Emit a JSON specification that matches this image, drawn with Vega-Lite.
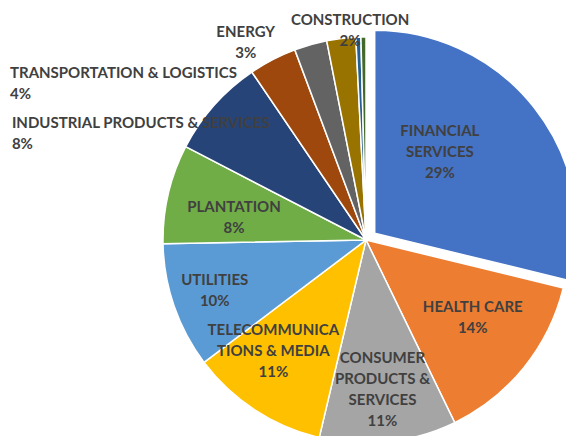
{
  "$schema": "https://vega.github.io/schema/vega-lite/v6.json",
  "autosize": "none",
  "width": 400,
  "height": 392,
  "padding": {"left": 166, "top": 44, "right": 0, "bottom": 0},
  "background": "white",
  "view": {"stroke": null},
  "config": {"text": {"font": "Lato", "fontSize": 15, "fontWeight": "bold", "color": "#404040", "lineHeight": 21, "lineBreak": "|", "baseline": "middle"}},
  "data": {
    "values": [
      {"sector": "FINANCIAL SERVICES", "label": "FINANCIAL|SERVICES", "share": 28.8},
      {"sector": "HEALTH CARE", "label": "HEALTH CARE", "share": 14.0},
      {"sector": "CONSUMER PRODUCTS & SERVICES", "label": "CONSUMER|PRODUCTS &|SERVICES", "share": 10.9},
      {"sector": "TELECOMMUNICATIONS & MEDIA", "label": "TELECOMMUNICA|TIONS & MEDIA", "share": 11.0},
      {"sector": "UTILITIES", "label": "UTILITIES", "share": 10.0},
      {"sector": "PLANTATION", "label": "PLANTATION", "share": 7.9},
      {"sector": "INDUSTRIAL PRODUCTS & SERVICES", "label": "INDUSTRIAL PRODUCTS & SERVICES", "share": 7.9},
      {"sector": "TRANSPORTATION & LOGISTICS", "label": "TRANSPORTATION & LOGISTICS", "share": 3.8},
      {"sector": "ENERGY", "label": "ENERGY", "share": 2.6},
      {"sector": "CONSTRUCTION", "label": "CONSTRUCTION", "share": 2.3},
      {"sector": "OTHER A", "label": "", "share": 0.4},
      {"sector": "OTHER B", "label": "", "share": 0.4}
    ]
  },
  "transform": [
    {"stack": "share", "groupby": [], "as": ["s0", "s1"]},
    {"calculate": "(datum.s0 + datum.s1) / 2", "as": "mid"},
    {"calculate": "datum.label + '|' + format(datum.share, '.0f') + '%'", "as": "txt"}
  ],
  "layer": [
    {
      "transform": [{"filter": "datum.sector != 'FINANCIAL SERVICES'"}],
      "mark": {"type": "arc", "radius": 203, "stroke": "white", "strokeWidth": 1.5},
      "encoding": {
        "theta": {"field": "s0", "type": "quantitative", "scale": {"domain": [0, 100]}},
        "theta2": {"field": "s1"},
        "color": {
          "field": "sector", "type": "nominal", "legend": null,
          "scale": {
            "domain": ["FINANCIAL SERVICES", "HEALTH CARE", "CONSUMER PRODUCTS & SERVICES", "TELECOMMUNICATIONS & MEDIA", "UTILITIES", "PLANTATION", "INDUSTRIAL PRODUCTS & SERVICES", "TRANSPORTATION & LOGISTICS", "ENERGY", "CONSTRUCTION", "OTHER A", "OTHER B"],
            "range": ["#4472C4", "#ED7D31", "#A5A5A5", "#FFC000", "#5B9BD5", "#70AD47", "#264478", "#9E480E", "#636363", "#997300", "#255E91", "#43682B"]
          }
        }
      }
    },
    {
      "transform": [{"filter": "datum.sector == 'FINANCIAL SERVICES'"}],
      "mark": {"type": "arc", "radius": 203, "stroke": "white", "strokeWidth": 1.5, "xOffset": 8.7, "yOffset": -6.8},
      "encoding": {
        "theta": {"field": "s0", "type": "quantitative", "scale": {"domain": [0, 100]}},
        "theta2": {"field": "s1"},
        "color": {"field": "sector", "type": "nominal", "legend": null}
      }
    },
    {
      "transform": [{"filter": "datum.sector == 'FINANCIAL SERVICES'"}],
      "mark": {"type": "text", "align": "center", "dx": -15, "dy": -39},
      "encoding": {"theta": {"field": "mid", "type": "quantitative", "stack": null, "scale": {"domain": [0, 100]}}, "radius": {"value": 113}, "text": {"field": "txt"}}
    },
    {
      "transform": [{"filter": "datum.sector == 'HEALTH CARE'"}],
      "mark": {"type": "text", "align": "center", "dx": 4, "dy": -15.5},
      "encoding": {"theta": {"field": "mid", "type": "quantitative", "stack": null, "scale": {"domain": [0, 100]}}, "radius": {"value": 132}, "text": {"field": "txt"}}
    },
    {
      "transform": [{"filter": "datum.sector == 'CONSUMER PRODUCTS & SERVICES'"}],
      "mark": {"type": "text", "align": "center", "dx": 0, "dy": -31.5},
      "encoding": {"theta": {"field": "mid", "type": "quantitative", "stack": null, "scale": {"domain": [0, 100]}}, "radius": {"value": 150}, "text": {"field": "txt"}}
    },
    {
      "transform": [{"filter": "datum.sector == 'TELECOMMUNICATIONS & MEDIA'"}],
      "mark": {"type": "text", "align": "center", "dx": -14, "dy": -31},
      "encoding": {"theta": {"field": "mid", "type": "quantitative", "stack": null, "scale": {"domain": [0, 100]}}, "radius": {"value": 144}, "text": {"field": "txt"}}
    },
    {
      "transform": [{"filter": "datum.sector == 'UTILITIES'"}],
      "mark": {"type": "text", "align": "center", "dx": -1, "dy": -12},
      "encoding": {"theta": {"field": "mid", "type": "quantitative", "stack": null, "scale": {"domain": [0, 100]}}, "radius": {"value": 159}, "text": {"field": "txt"}}
    },
    {
      "transform": [{"filter": "datum.sector == 'PLANTATION'"}],
      "mark": {"type": "text", "align": "center", "dx": -1.5, "dy": -2.5},
      "encoding": {"theta": {"field": "mid", "type": "quantitative", "stack": null, "scale": {"domain": [0, 100]}}, "radius": {"value": 134}, "text": {"field": "txt"}}
    },
    {
      "transform": [{"filter": "datum.sector == 'INDUSTRIAL PRODUCTS & SERVICES'"}],
      "mark": {"type": "text", "align": "left", "dx": -197, "dy": 22.5},
      "encoding": {"theta": {"field": "mid", "type": "quantitative", "stack": null, "scale": {"domain": [0, 100]}}, "radius": {"value": 210}, "text": {"field": "txt"}}
    },
    {
      "transform": [{"filter": "datum.sector == 'TRANSPORTATION & LOGISTICS'"}],
      "mark": {"type": "text", "align": "left", "dx": -259.5, "dy": 19.5},
      "encoding": {"theta": {"field": "mid", "type": "quantitative", "stack": null, "scale": {"domain": [0, 100]}}, "radius": {"value": 210}, "text": {"field": "txt"}}
    },
    {
      "transform": [{"filter": "datum.sector == 'ENERGY'"}],
      "mark": {"type": "text", "align": "center", "dx": -63, "dy": -6},
      "encoding": {"theta": {"field": "mid", "type": "quantitative", "stack": null, "scale": {"domain": [0, 100]}}, "radius": {"value": 210}, "text": {"field": "txt"}}
    },
    {
      "transform": [{"filter": "datum.sector == 'CONSTRUCTION'"}],
      "mark": {"type": "text", "align": "center", "dx": 11, "dy": -1.6},
      "encoding": {"theta": {"field": "mid", "type": "quantitative", "stack": null, "scale": {"domain": [0, 100]}}, "radius": {"value": 220}, "text": {"field": "txt"}}
    }
  ]
}
